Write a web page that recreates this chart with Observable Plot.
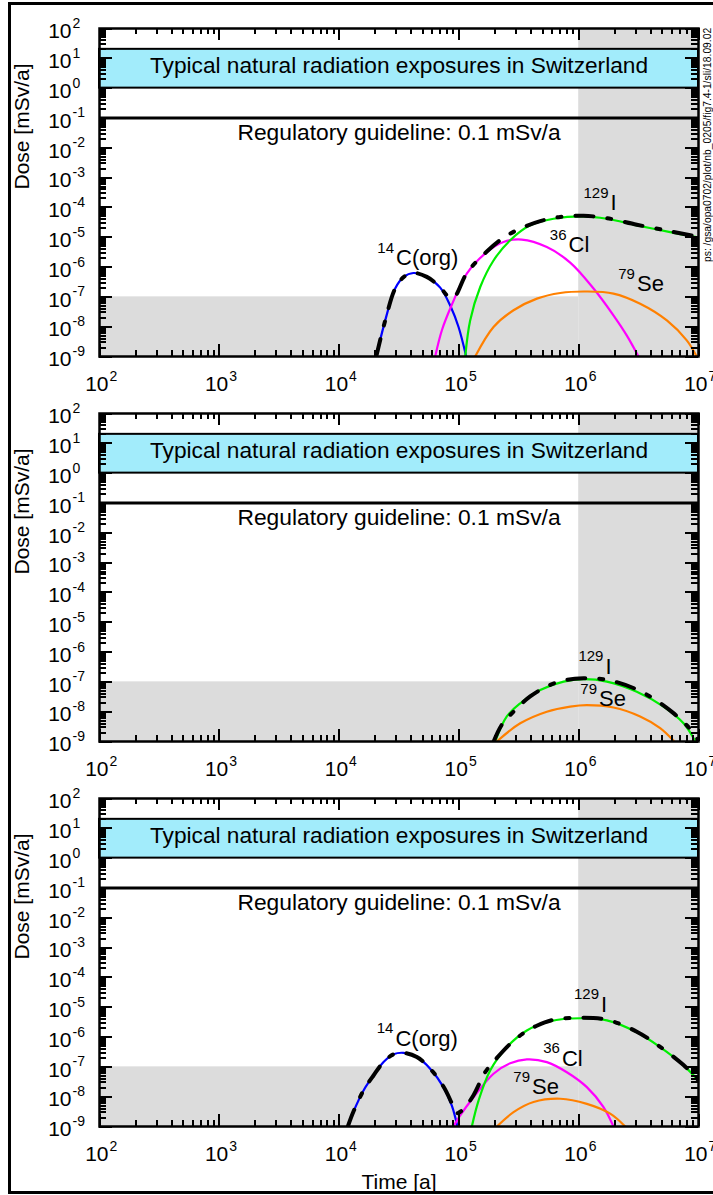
<!DOCTYPE html>
<html><head><meta charset="utf-8">
<script src="https://cdn.jsdelivr.net/npm/d3@7"></script>
<script src="https://cdn.jsdelivr.net/npm/@observablehq/plot@0.6"></script>
<style>
html,body{margin:0;padding:0;background:#fff;}
#page{position:relative;width:713px;height:1195px;overflow:hidden;font-family:"Liberation Sans",Arial,sans-serif;}
.panel{position:absolute;left:0;}
#outer{position:absolute;left:8px;top:2px;width:720px;height:1192px;border:3px solid #000;box-sizing:border-box;}
#overlay{position:absolute;left:0;top:0;}
</style></head>
<body><div id="page"><div id="outer"></div></div>
<script>
// ---- data: [log10(time [a]), log10(dose [mSv/a])] ----
const p1_C14  = [[4.31,-9],[4.385,-7.79],[4.468,-6.72],[4.538,-6.34],[4.62,-6.2],[4.732,-6.33],[4.844,-6.69],[4.933,-7.34],[4.997,-8.01],[5.061,-9]];
const p1_Cl36 = [[4.802,-9],[4.858,-8.12],[4.933,-7.34],[5.066,-6.22],[5.233,-5.5],[5.372,-5.16],[5.525,-5.08],[5.734,-5.33],[5.929,-5.85],[6.124,-6.72],[6.29,-7.62],[6.402,-8.3],[6.499,-9]];
const p1_I129 = [[5.053,-9],[5.094,-7.79],[5.178,-6.67],[5.289,-5.78],[5.428,-5.1],[5.595,-4.6],[5.79,-4.38],[6.04,-4.3],[6.235,-4.38],[6.485,-4.6],[6.764,-4.83],[7.0,-5.01]];
const p1_Se79 = [[5.136,-9],[5.289,-8.01],[5.456,-7.45],[5.651,-7.06],[5.846,-6.87],[6.068,-6.82],[6.29,-6.89],[6.513,-7.23],[6.736,-7.79],[6.902,-8.46],[6.985,-9]];
const p1_total = [[4.31,-9],[4.385,-7.79],[4.468,-6.72],[4.538,-6.34],[4.62,-6.2],[4.732,-6.33],[4.844,-6.68],[4.9,-6.95],[4.933,-7.04],[4.97,-6.97],[5.066,-6.2],[5.233,-5.48],[5.372,-5.02],[5.512,-4.71],[5.679,-4.46],[5.846,-4.32],[6.04,-4.28],[6.235,-4.36],[6.485,-4.58],[6.764,-4.8],[7.0,-4.99]];

const p2_I129 = [[5.303,-9],[5.4,-8.16],[5.512,-7.72],[5.679,-7.27],[5.874,-6.99],[6.04,-6.91],[6.235,-6.99],[6.485,-7.33],[6.708,-7.83],[6.875,-8.39],[6.97,-8.97]];
const p2_Se79 = [[5.316,-9],[5.512,-8.39],[5.734,-8.0],[5.929,-7.83],[6.068,-7.78],[6.29,-7.86],[6.513,-8.16],[6.68,-8.55],[6.791,-8.97]];
const p2_total = [[5.29,-9],[5.358,-8.44],[5.456,-8.0],[5.595,-7.49],[5.762,-7.1],[5.902,-6.93],[6.04,-6.88],[6.235,-6.93],[6.513,-7.31],[6.791,-8.05],[6.96,-8.72],[7.0,-9]];

const p3_C14  = [[4.073,-9],[4.12,-8.5],[4.204,-7.79],[4.287,-7.29],[4.371,-6.84],[4.454,-6.58],[4.538,-6.53],[4.649,-6.67],[4.76,-7.06],[4.871,-7.68],[4.941,-8.3],[4.988,-9]];
const p3_Cl36 = [[4.955,-9],[5.011,-8.63],[5.122,-8.02],[5.289,-7.23],[5.428,-6.88],[5.567,-6.75],[5.734,-6.84],[5.901,-7.18],[6.068,-7.68],[6.207,-8.35],[6.29,-9]];
const p3_I129 = [[5.108,-9],[5.164,-8.13],[5.261,-7.12],[5.4,-6.34],[5.567,-5.78],[5.762,-5.47],[6.012,-5.37],[6.235,-5.44],[6.485,-5.84],[6.68,-6.34],[6.875,-6.95],[7.0,-7.46]];
const p3_Se79 = [[5.317,-9],[5.456,-8.52],[5.623,-8.18],[5.846,-8.07],[6.068,-8.24],[6.263,-8.57],[6.388,-9]];
const p3_total = [[4.073,-9],[4.12,-8.5],[4.204,-7.79],[4.287,-7.29],[4.371,-6.84],[4.454,-6.58],[4.538,-6.53],[4.649,-6.67],[4.76,-7.06],[4.871,-7.66],[4.941,-8.22],[4.98,-8.55],[5.03,-8.45],[5.122,-7.95],[5.219,-7.18],[5.317,-6.7],[5.43,-6.22],[5.54,-5.87],[5.65,-5.62],[5.79,-5.42],[6.012,-5.35],[6.235,-5.42],[6.485,-5.82],[6.68,-6.33],[6.875,-6.94],[7.0,-7.45]];

// nuclide labels (anchor in log10 data units)
const p1_labels = [{iso:"14",el:"C(org)",t:4.467,d:-5.708},{iso:"36",el:"Cl",t:5.907,d:-5.272},{iso:"129",el:"I",t:6.257,d:-3.846},{iso:"79",el:"Se",t:6.478,d:-6.564}];
const p2_labels = [{iso:"129",el:"I",t:6.215,d:-6.489},{iso:"79",el:"Se",t:6.161,d:-7.571}];
const p3_labels = [{iso:"14",el:"C(org)",t:4.462,d:-6.048},{iso:"36",el:"Cl",t:5.852,d:-6.719},{iso:"129",el:"I",t:6.178,d:-4.908},{iso:"79",el:"Se",t:5.602,d:-7.681}];

const timeDomain = [1e2, 1e7];
const doseDomain = [1e-9, 1e2];
const xExponents = [2,3,4,5,6,7];
const yExponents = [2,1,0,-1,-2,-3,-4,-5,-6,-7,-8,-9];
const minorMultipliers = [2,3,4,5,6,7,8,9];
const grayZones = [{t1:1e2,t2:1e6,d1:1e-9,d2:1e-7},{t1:1e6,t2:1e7,d1:1e-9,d2:1e2}];
const naturalBand = {lo:1, hi:20};
const guideline = 0.1;
const bandLabel = "Typical natural radiation exposures in Switzerland";
const guidelineLabel = "Regulatory guideline: 0.1 mSv/a";
const yTitle = "Dose [mSv/a]";
const xTitle = "Time [a]";
const stamp = "ps: /gsa/opa0702/plot/nb_0205/fig7.4-1/sli/18.09.02";

// ---- styling / layout ----
const GRAY = "#dcdcdc", CYAN = "#a2ecfb";
const colors = {C14:"#0000ff", Cl36:"#ff00ff", I129:"#00ee00", Se79:"#ff8000"};
const FONT = '"Liberation Sans", Arial, sans-serif';
const plotW = 599, plotH = 328;

const toXY = pts => pts.map(([lt, ld]) => ({t: 10 ** lt, d: 10 ** ld}));
// tick positions as objects
const xMaj = xExponents.map(e => ({v: 10 ** e}));
const yMaj = yExponents.map(e => ({v: 10 ** e}));
const xMin = xExponents.slice(0, -1).flatMap(e => minorMultipliers.map(k => ({v: k * 10 ** e})));
const yMin = yExponents.slice(1).flatMap(e => minorMultipliers.map(k => ({v: k * 10 ** e})));

// tick lengths in pixels, expressed through the log scales
const xDecPx = plotW / Math.log10(timeDomain[1] / timeDomain[0]);
const yDecPx = plotH / Math.log10(doseDomain[1] / doseDomain[0]);
const yUp = len => doseDomain[0] * 10 ** (len / yDecPx);
const yDown = len => doseDomain[1] / 10 ** (len / yDecPx);
const xRight = len => timeDomain[0] * 10 ** (len / xDecPx);
const xLeft = len => timeDomain[1] / 10 ** (len / xDecPx);

function tickMarks() {
  const o = {stroke: "black", strokeWidth: 2, shapeRendering: "crispEdges"};
  return [
    Plot.ruleX(xMaj, {x: "v", y1: () => doseDomain[0], y2: () => yUp(12), ...o}),
    Plot.ruleX(xMin, {x: "v", y1: () => doseDomain[0], y2: () => yUp(6), ...o}),
    Plot.ruleX(xMaj, {x: "v", y1: () => doseDomain[1], y2: () => yDown(12), ...o}),
    Plot.ruleX(xMin, {x: "v", y1: () => doseDomain[1], y2: () => yDown(6), ...o}),
    Plot.ruleY(yMaj, {y: "v", x1: () => timeDomain[0], x2: () => xRight(13), ...o}),
    Plot.ruleY(yMin, {y: "v", x1: () => timeDomain[0], x2: () => xRight(7), ...o}),
    Plot.ruleY(yMaj, {y: "v", x1: () => timeDomain[1], x2: () => xLeft(13), ...o}),
    Plot.ruleY(yMin, {y: "v", x1: () => timeDomain[1], x2: () => xLeft(7), ...o})
  ];
}

function buildPanel(cfg) {
  const marks = [
    Plot.rect(grayZones, {x1: "t1", x2: "t2", y1: "d1", y2: "d2", fill: GRAY}),
    Plot.rect([naturalBand], {x1: () => timeDomain[0], x2: () => timeDomain[1], y1: "lo", y2: "hi", fill: CYAN, stroke: "black", strokeWidth: 2}),
    Plot.ruleY([guideline], {stroke: "black", strokeWidth: 3}),
    Plot.text([bandLabel], {x: () => 10 ** 4.5, y: () => Math.sqrt(naturalBand.lo * naturalBand.hi), dy: -3.5, text: d => d, fontSize: 22.7}),
    Plot.text([guidelineLabel], {x: () => 10 ** 4.5, y: () => guideline, dy: 15, text: d => d, fontSize: 22.8})
  ];
  for (const [key, pts] of cfg.series) {
    marks.push(Plot.line(toXY(pts), {x: "t", y: "d", stroke: colors[key], strokeWidth: 2.2, curve: "catmull-rom", clip: true}));
  }
  marks.push(Plot.line(toXY(cfg.total), {x: "t", y: "d", stroke: "black", strokeWidth: 4, strokeDasharray: "18,14,4,14", curve: "catmull-rom", clip: true}));
  marks.push(Plot.text(cfg.labels, {x: d => 10 ** d.t, y: d => 10 ** d.d, text: "iso", textAnchor: "end", dx: -1, dy: -10, fontSize: 15}));
  marks.push(Plot.text(cfg.labels, {x: d => 10 ** d.t, y: d => 10 ** d.d, text: "el", textAnchor: "start", dx: 1, fontSize: 22}));
  marks.push(...tickMarks());
  // tick labels
  marks.push(
    Plot.text(yExponents, {y: e => 10 ** e, frameAnchor: "left", lineAnchor: "middle", text: () => "10", textAnchor: "end", dx: -28, dy: 3, fontSize: 21}),
    Plot.text(yExponents, {y: e => 10 ** e, frameAnchor: "left", lineAnchor: "middle", text: e => String(e), textAnchor: "start", dx: -27, dy: -5, fontSize: 14}),
    Plot.text(xExponents, {x: e => 10 ** e, frameAnchor: "bottom", lineAnchor: "middle", text: () => "10", textAnchor: "end", dx: 9, dy: 28, fontSize: 21}),
    Plot.text(xExponents, {x: e => 10 ** e, frameAnchor: "bottom", lineAnchor: "middle", text: e => String(e), textAnchor: "start", dx: 10, dy: 20, fontSize: 14}),
    Plot.text([yTitle], {frameAnchor: "left", lineAnchor: "middle", text: d => d, rotate: -90, dx: -77, dy: -3, fontSize: 21})
  );
  if (cfg.showXTitle) marks.push(Plot.text([xTitle], {frameAnchor: "bottom", lineAnchor: "middle", text: d => d, dy: 56, fontSize: 21}));
  marks.push(Plot.frame({stroke: "black", strokeWidth: 2.5}));

  const chart = Plot.plot({
    width: 713, height: cfg.height,
    marginLeft: 99, marginRight: 15, marginTop: 28, marginBottom: cfg.height - 28 - plotH,
    x: {type: "log", domain: timeDomain, axis: null},
    y: {type: "log", domain: doseDomain, axis: null},
    style: {fontFamily: FONT, background: "transparent", overflow: "visible", color: "black"},
    marks
  });
  const holder = document.createElement("div");
  holder.className = "panel";
  holder.style.top = cfg.top + "px";
  holder.appendChild(chart);
  document.getElementById("page").appendChild(holder);
}

buildPanel({top: 0, height: 385, series: [["C14", p1_C14], ["Cl36", p1_Cl36], ["I129", p1_I129], ["Se79", p1_Se79]], total: p1_total, labels: p1_labels});
buildPanel({top: 385, height: 385, series: [["I129", p2_I129], ["Se79", p2_Se79]], total: p2_total, labels: p2_labels});
buildPanel({top: 770, height: 425, series: [["C14", p3_C14], ["Cl36", p3_Cl36], ["I129", p3_I129], ["Se79", p3_Se79]], total: p3_total, labels: p3_labels, showXTitle: true});

// rotated file stamp at the right edge
const ns = "http://www.w3.org/2000/svg";
const ov = document.createElementNS(ns, "svg");
ov.setAttribute("id", "overlay");
ov.setAttribute("width", 713); ov.setAttribute("height", 1195);
const st = document.createElementNS(ns, "text");
st.setAttribute("transform", "translate(711,262) rotate(-90)");
st.setAttribute("font-size", "10.3");
st.setAttribute("font-family", FONT);
st.textContent = stamp;
ov.appendChild(st);
document.getElementById("page").appendChild(ov);
</script>
</body></html>
